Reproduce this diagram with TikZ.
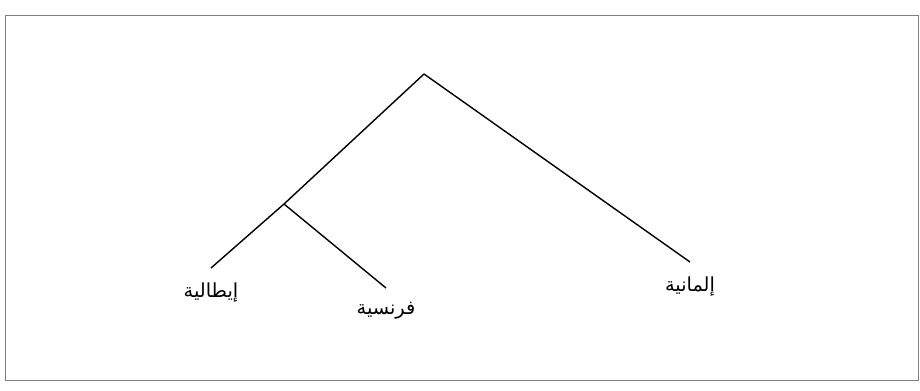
\documentclass[tikz,border=0pt]{standalone}
\usepackage{fontspec}
\newfontfamily\arabicfont[Script=Arabic]{DejaVu Sans}
\TeXXeTstate=1
\usetikzlibrary{positioning}

\begin{document}
\begin{tikzpicture}[
            x=0.02cm, y=-0.02cm,
            node distance = 0.24cm,
            thick,
            lang/.style={inner sep=1pt, font=\arabicfont\fontsize{11pt}{13pt}\selectfont}
        ]

        \useasboundingbox (0,0) rectangle (920,390);
        \draw[gray, thin] (5,15) rectangle (918,380);

        % branching points
        \coordinate (root) at (424,74);
        \coordinate (romance) at (284,204);

        % leaves
        \coordinate (ita) at (211,268);
        \coordinate (fra) at (386,288);
        \coordinate (ger) at (690,262);

        \node[lang] (itaname) [below=of ita] {\beginR إيطالية\endR};
        \node[lang] (franame) [below=of fra] {\beginR فرنسية\endR};
        \node[lang] (gername) [below=of ger] {\beginR إلمانية\endR};

        \draw (root) -- (romance) -- (ita);
        \draw (romance) -- (fra);
        \draw (root) -- (ger);

    \end{tikzpicture}
\end{document}
